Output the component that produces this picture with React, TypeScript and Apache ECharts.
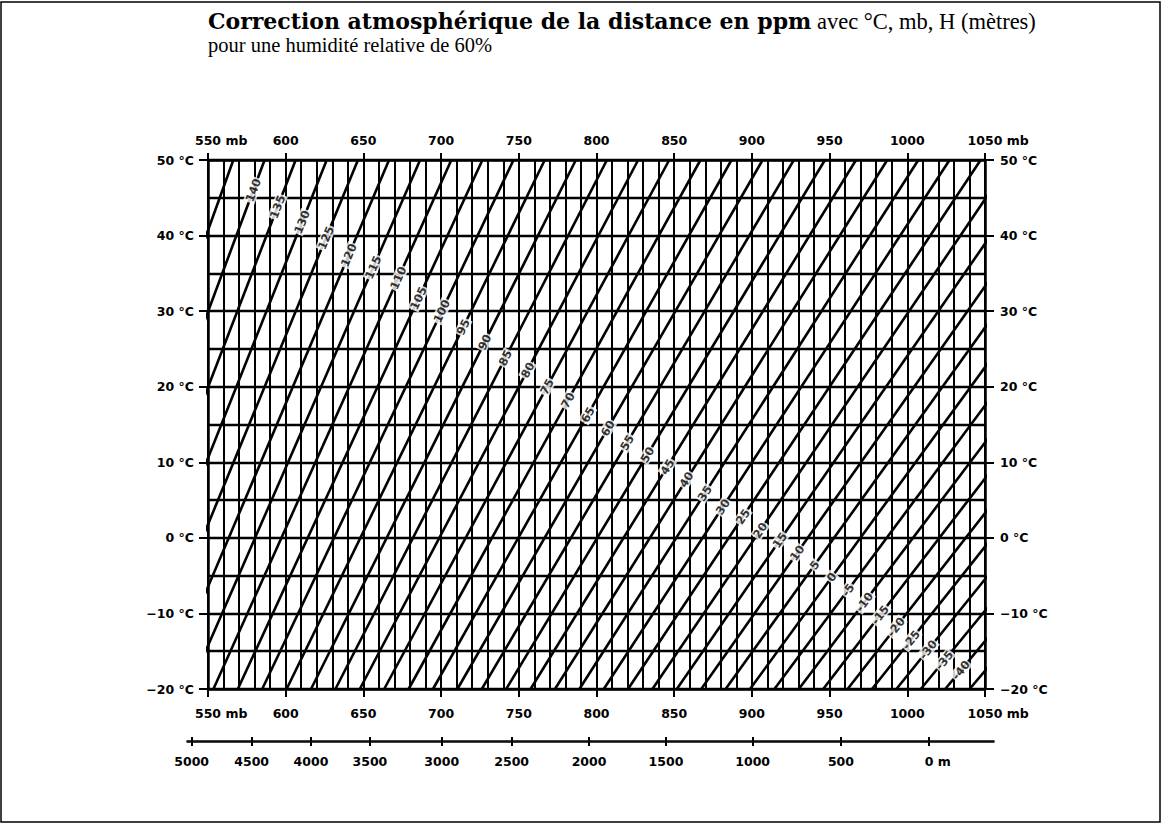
import React, { useEffect, useRef } from 'react';
import * as echarts from 'echarts';

// ppm correction lines: pressure (mb) where each line meets -20 °C and 50 °C
const ppmValues = [145, 140, 135, 130, 125, 120, 115, 110, 105, 100, 95, 90, 85, 80, 75, 70, 65, 60, 55, 50, 45, 40, 35, 30, 25, 20, 15, 10, 5, 0, -5, -10, -15, -20, -25, -30, -35, -40, -45];
const pressureAtMinus20 = [443.7, 459.4, 475.1, 490.8, 506.4, 522.1, 537.8, 553.5, 569.2, 584.9, 600.6, 616.3, 632.0, 647.7, 663.4, 679.1, 694.8, 710.5, 726.2, 741.9, 757.6, 773.3, 789.0, 804.7, 820.3, 836.0, 851.7, 867.4, 883.1, 898.8, 914.5, 930.2, 945.9, 961.6, 977.3, 993.0, 1008.7, 1024.4, 1040.1];
const pressureAt50 = [566.3, 586.4, 606.4, 626.4, 646.5, 666.5, 686.5, 706.6, 726.6, 746.6, 766.7, 786.7, 806.7, 826.8, 846.8, 866.9, 886.9, 906.9, 927.0, 947.0, 967.0, 987.1, 1007.1, 1027.2, 1047.2, 1067.2, 1087.3, 1107.3, 1127.3, 1147.4, 1167.4, 1187.4, 1207.5, 1227.5, 1247.5, 1267.6, 1287.6, 1307.6, 1327.6];

// labelled lines and the temperature at which each label sits
const labelledPpm = [140, 135, 130, 125, 120, 115, 110, 105, 100, 95, 90, 85, 80, 75, 70, 65, 60, 55, 50, 45, 40, 35, 30, 25, 20, 15, 10, 5, 0, -5, -10, -15, -20, -25, -30, -35, -40];
const labelTemps = [46.0, 43.8, 41.8, 39.7, 37.4, 35.8, 34.4, 31.7, 30.0, 27.9, 25.9, 23.8, 22.2, 20.0, 18.2, 16.3, 14.5, 12.6, 11.0, 9.4, 7.7, 5.9, 4.1, 2.8, 1.0, -0.3, -2.0, -3.6, -5.2, -6.9, -8.5, -10.2, -11.8, -13.5, -14.8, -16.2, -17.5];

// altitude scale (m) and matching pressure (mb)
const altitudeLabels = [5000, 4500, 4000, 3500, 3000, 2500, 2000, 1500, 1000, 500, 0];
const altitudePressures = [539.5, 578.1, 616.3, 654.2, 700.4, 745.4, 795.2, 844.7, 900.5, 957.3, 1014.0];

const P_MIN = 550, P_MAX = 1050, P_STEP = 50;
const T_MIN = -20, T_MAX = 50, T_STEP = 10;
const ALT_P_MIN = 536.5, ALT_P_MAX = 1055.8;

const W = 1169, H = 827;
const GRID = { left: 208, top: 160, width: 777, height: 529 };
const ALT_GRID = { left: 187, top: 741, width: 807, height: 1 };

const LABEL_FAMILY = '"DejaVu Sans", sans-serif';
const LABEL_SIZE = 12.5;
const SERIF = '"Liberation Serif", "Times New Roman", serif';
const SERIF_BOLD = '"DejaVu Serif", "Liberation Serif", serif';

function measure(text: string, font: string): number {
  const ctx = document.createElement('canvas').getContext('2d');
  if (!ctx) return text.length * 7;
  ctx.font = font;
  return ctx.measureText(text).width;
}

export default function App() {
  const ref = useRef<HTMLDivElement>(null);

  useEffect(() => {
    if (!ref.current) return;
    const chart = echarts.init(ref.current, undefined, { renderer: 'svg' });

    const font = `bold ${LABEL_SIZE}px "DejaVu Sans"`;
    const mbW = measure(' mb', font);
    const mW = measure(' m', font);
    const base = { fontFamily: LABEL_FAMILY, fontWeight: 'bold' as const, fontSize: LABEL_SIZE, color: '#000' };
    const richMb = {
      plain: { ...base },
      n: { ...base, padding: [0, 0, 0, mbW] },
      u: { ...base },
    };
    const richM = {
      plain: { ...base },
      n: { ...base, padding: [0, 0, 0, mW] },
      u: { ...base },
    };
    const mbFormatter = (v: number) =>
      v === P_MIN || v === P_MAX ? `{n|${v}}{u| mb}` : `{plain|${v}}`;
    const tFormatter = (v: number) => `${v < 0 ? '−' + Math.abs(v) : v} °C`;
    const altFormatter = (v: number) => {
      let best = 0;
      for (let i = 1; i < altitudePressures.length; i++) {
        if (Math.abs(altitudePressures[i] - v) < Math.abs(altitudePressures[best] - v)) best = i;
      }
      const a = altitudeLabels[best];
      return a === 0 ? `{n|0}{u| m}` : `{plain|${a}}`;
    };

    const black = '#000';
    const pxPerMb = GRID.width / (P_MAX - P_MIN);
    const pxPerDeg = GRID.height / (T_MAX - T_MIN);

    const lineSeries = ppmValues.map((v, i) => ({
      type: 'line',
      name: `ppm ${v}`,
      xAxisIndex: 0,
      yAxisIndex: 0,
      data: [
        [pressureAtMinus20[i], T_MIN],
        [pressureAt50[i], T_MAX],
      ],
      symbol: 'none',
      clip: true,
      silent: true,
      z: 3,
      lineStyle: { color: black, width: 2.6 },
    }));

    const labelData = labelledPpm.map((v, k) => {
      const i = ppmValues.indexOf(v);
      const t = labelTemps[k];
      const p = pressureAtMinus20[i] + ((t - T_MIN) / (T_MAX - T_MIN)) * (pressureAt50[i] - pressureAtMinus20[i]);
      const dx = (pressureAt50[i] - pressureAtMinus20[i]) * pxPerMb;
      const dy = (T_MAX - T_MIN) * pxPerDeg;
      const rot = (Math.atan2(dy, dx) * 180) / Math.PI;
      return {
        name: v < 0 ? `-${Math.abs(v)}` : `${v}`,
        value: [p, t],
        label: { rotate: rot },
      };
    });

    const option: any = {
      animation: false,
      backgroundColor: '#fff',
      grid: [
        { left: GRID.left, top: GRID.top, width: GRID.width, height: GRID.height },
        { left: ALT_GRID.left, top: ALT_GRID.top, width: ALT_GRID.width, height: ALT_GRID.height },
      ],
      xAxis: [
        {
          gridIndex: 0,
          type: 'value',
          position: 'bottom',
          min: P_MIN,
          max: P_MAX,
          interval: P_STEP,
          axisLine: { show: true, onZero: false, lineStyle: { color: black, width: 2.5 } },
          axisTick: { show: true, length: 8, lineStyle: { color: black, width: 2 } },
          minorTick: { show: false, splitNumber: 5 },
          splitLine: { show: true, lineStyle: { color: black, width: 2 } },
          minorSplitLine: { show: true, lineStyle: { color: black, width: 2 } },
          axisLabel: { ...base, margin: 18, formatter: mbFormatter, rich: richMb, showMinLabel: true, showMaxLabel: true, hideOverlap: false },
        },
        {
          gridIndex: 0,
          type: 'value',
          position: 'top',
          min: P_MIN,
          max: P_MAX,
          interval: P_STEP,
          axisLine: { show: true, onZero: false, lineStyle: { color: black, width: 2.5 } },
          axisTick: { show: true, length: 7, lineStyle: { color: black, width: 2 } },
          splitLine: { show: false },
          axisLabel: { ...base, margin: 13, formatter: mbFormatter, rich: richMb, showMinLabel: true, showMaxLabel: true, hideOverlap: false },
        },
        {
          gridIndex: 1,
          type: 'value',
          position: 'bottom',
          min: ALT_P_MIN,
          max: ALT_P_MAX,
          axisLine: { show: true, onZero: false, lineStyle: { color: black, width: 1.5 } },
          axisTick: { show: true, length: 4, customValues: altitudePressures, lineStyle: { color: black, width: 2 } },
          splitLine: { show: false },
          axisLabel: { ...base, margin: 13, customValues: altitudePressures, formatter: altFormatter, rich: richM, hideOverlap: false },
        },
        {
          gridIndex: 1,
          type: 'value',
          position: 'top',
          min: ALT_P_MIN,
          max: ALT_P_MAX,
          axisLine: { show: true, onZero: false, lineStyle: { color: black, width: 1.5 } },
          axisTick: { show: true, length: 4, customValues: altitudePressures, lineStyle: { color: black, width: 2 } },
          splitLine: { show: false },
          axisLabel: { show: false },
        },
      ],
      yAxis: [
        {
          gridIndex: 0,
          type: 'value',
          position: 'left',
          min: T_MIN,
          max: T_MAX,
          interval: T_STEP,
          axisLine: { show: true, onZero: false, lineStyle: { color: black, width: 2.5 } },
          axisTick: { show: true, length: 9, lineStyle: { color: black, width: 2 } },
          minorTick: { show: false, splitNumber: 2 },
          splitLine: { show: true, lineStyle: { color: black, width: 2.3 } },
          minorSplitLine: { show: true, lineStyle: { color: black, width: 2.3 } },
          axisLabel: { ...base, margin: 14, formatter: tFormatter },
        },
        {
          gridIndex: 0,
          type: 'value',
          position: 'right',
          min: T_MIN,
          max: T_MAX,
          interval: T_STEP,
          axisLine: { show: true, onZero: false, lineStyle: { color: black, width: 2.5 } },
          axisTick: { show: true, length: 9, lineStyle: { color: black, width: 2 } },
          splitLine: { show: false },
          axisLabel: { ...base, margin: 15, formatter: tFormatter },
        },
        { gridIndex: 1, type: 'value', show: false, min: 0, max: 1 },
      ],
      series: [
        ...lineSeries,
        {
          type: 'scatter',
          name: 'labels',
          xAxisIndex: 0,
          yAxisIndex: 0,
          symbolSize: 1,
          itemStyle: { color: 'rgba(0,0,0,0)' },
          silent: true,
          z: 5,
          data: labelData,
          label: {
            show: true,
            position: 'inside',
            formatter: (p: any) => p.name,
            fontFamily: LABEL_FAMILY,
            fontWeight: 'bold',
            fontSize: 11.5,
            color: black,
            backgroundColor: '#fff',
            padding: [0, 1],
          },
        },
      ],
      graphic: [
        {
          type: 'rect',
          shape: { x: 1, y: 2, width: 1159, height: 820 },
          style: { fill: 'none', stroke: black, lineWidth: 1.5 },
          silent: true,
        },
        {
          type: 'text',
          x: 208,
          y: 21,
          style: {
            text: '{b|Correction atmosphérique de la distance en ppm}{n| avec °C, mb, H (mètres)}',
            verticalAlign: 'middle',
            rich: {
              b: { fontFamily: SERIF_BOLD, fontWeight: 'bold', fontSize: 22, lineHeight: 22, fill: black },
              n: { fontFamily: SERIF, fontSize: 22.5, lineHeight: 22, fill: black },
            },
          },
        },
        {
          type: 'text',
          x: 208,
          y: 45,
          style: {
            text: 'pour une humidité relative de 60%',
            verticalAlign: 'middle',
            fontFamily: SERIF,
            fontSize: 20.5,
            lineHeight: 20,
            fill: black,
          },
        },
      ],
    };

    chart.setOption(option);
    return () => chart.dispose();
  }, []);

  return (
    <div
      ref={ref}
      style={{ position: 'absolute', left: 0, top: 0, width: W, height: H, background: '#fff' }}
    />
  );
}
